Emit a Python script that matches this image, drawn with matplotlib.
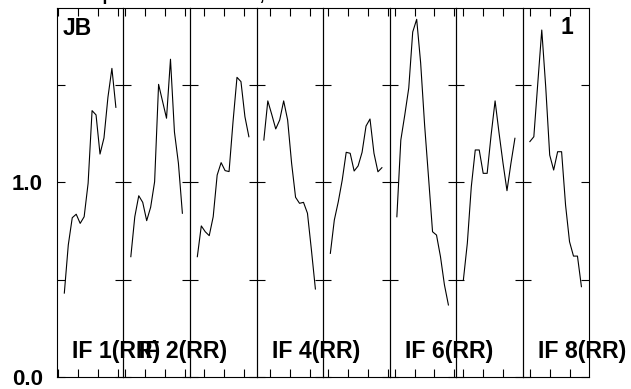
import numpy as np
import matplotlib
matplotlib.use("Agg")
import matplotlib.pyplot as plt

plt.rcParams['font.family'] = ['Liberation Sans', 'DejaVu Sans']
plt.rcParams['font.weight'] = 'bold'

# channels shown in each IF (edge channels dropped)
channels = list(range(2, 16))

# amplitude per channel, one list per IF
if1 = [0.431, 0.678, 0.818, 0.836, 0.789, 0.823, 0.995, 1.368, 1.346, 1.145, 1.228, 1.437, 1.585, 1.385]
if2 = [0.618, 0.823, 0.931, 0.897, 0.803, 0.872, 1.003, 1.503, 1.416, 1.329, 1.632, 1.258, 1.098, 0.841]
if3 = [0.618, 0.776, 0.746, 0.726, 0.823, 1.037, 1.101, 1.060, 1.055, 1.311, 1.539, 1.517, 1.337, 1.234]
if4 = [1.217, 1.418, 1.348, 1.274, 1.320, 1.418, 1.320, 1.098, 0.923, 0.892, 0.897, 0.841, 0.652, 0.452]
if5 = [0.635, 0.806, 0.900, 1.012, 1.154, 1.149, 1.058, 1.084, 1.154, 1.289, 1.325, 1.149, 1.054, 1.075]
if6 = [0.823, 1.217, 1.346, 1.484, 1.772, 1.837, 1.613, 1.294, 1.022, 0.746, 0.729, 0.618, 0.473, 0.370]
if7 = [0.498, 0.687, 0.977, 1.166, 1.166, 1.046, 1.046, 1.243, 1.418, 1.253, 1.098, 0.957, 1.098, 1.226]
if8 = [1.209, 1.234, 1.510, 1.782, 1.489, 1.140, 1.063, 1.157, 1.157, 0.883, 0.695, 0.621, 0.621, 0.464]
spectra = [if1, if2, if3, if4, if5, if6, if7, if8]

if_labels = ['IF 1(RR)', 'IF 2(RR)', None, 'IF 4(RR)', None, 'IF 6(RR)', None, 'IF 8(RR)']
ytick_vals = [0.0, 0.5, 1.0, 1.5]
ytick_text = ['0.0', '', '1.0', '']

# frequency tick phase inside each panel (in channel units)
xlo, xhi = 0.15, 16.92
tick_phase = [0.33, 0.38, 3.53, 3.35, 1.16, 1.26, 1.71, 1.77]
tick_step = 5.04

fig, axes = plt.subplots(1, 8, sharey=True, figsize=(6.31, 3.89), dpi=100)
fig.subplots_adjust(left=0.0903, right=0.9335, bottom=0.0308, top=0.9794, wspace=0)

for i, ax in enumerate(axes):
    ax.patch.set_visible(False)
    ax.plot(channels, spectra[i], color='black', lw=0.8)
    ax.set_xlim(xlo, xhi)
    ax.set_ylim(0, 1.895)
    ax.set_xticks(np.arange(xlo + tick_phase[i], xhi, tick_step))
    ax.set_xticklabels([])
    ax.set_yticks(ytick_vals)
    ax.tick_params(axis='x', direction='in', top=True, bottom=True, length=6, width=0.8)
    ax.tick_params(axis='y', direction='in', left=True, right=True, length=6, width=0.8,
                   labelsize=16, pad=10)
    for sp in ax.spines.values():
        sp.set_color('black')
        sp.set_linewidth(0.8)
    if if_labels[i]:
        ax.text(0.226, 0.0686, if_labels[i], transform=ax.transAxes, fontsize=16.7,
                fontweight='bold', ha='left', va='center', clip_on=False)

axes[0].set_yticklabels(ytick_text)
for lab in axes[0].get_yticklabels():
    lab.set_fontweight('bold')

axes[0].text(0.086, 0.945, 'JB', transform=axes[0].transAxes, fontsize=16.5,
             fontweight='bold', ha='left', va='center')
axes[7].text(0.66, 0.948, '1', transform=axes[7].transAxes, fontsize=16.5,
             fontweight='bold', ha='center', va='center')

# title sits mostly above the canvas, only descenders show
fig.text(74.5 / 631, 1.0, 'Amplitude vs Channel, Stokes RR', fontsize=12.7,
         fontweight='bold', ha='left', va='baseline')

fig.savefig('out.png', dpi=100)
